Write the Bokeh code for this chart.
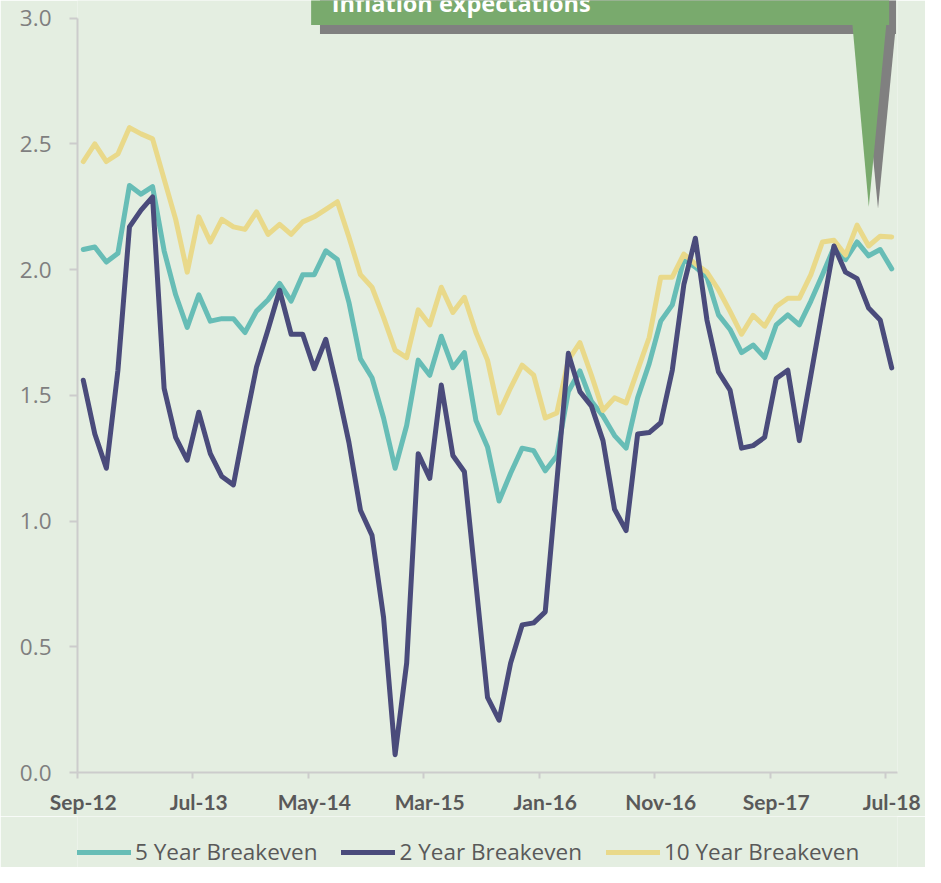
from bokeh.plotting import figure
from bokeh.layouts import column
from bokeh.models import FixedTicker, Range1d, Legend, LegendItem, NumeralTickFormatter
from bokeh.embed import file_html
from bokeh.resources import INLINE
from bokeh.core.properties import value

# ---- data (monthly, Sep-2012 .. Jul-2018) ----
tick_labels = ["Sep-12", "Jul-13", "May-14", "Mar-15", "Jan-16", "Nov-16", "Sep-17", "Jul-18"]
tick_every = 10  # months between labelled ticks

five_year = [2.08, 2.09, 2.03, 2.065, 2.335, 2.30, 2.33, 2.075, 1.90, 1.77,
             1.90, 1.795, 1.805, 1.805, 1.75, 1.835, 1.88, 1.945, 1.875, 1.98,
             1.98, 2.075, 2.04, 1.87, 1.645, 1.57, 1.41, 1.21, 1.38, 1.64,
             1.58, 1.735, 1.61, 1.67, 1.40, 1.295, 1.08, 1.19, 1.29, 1.28,
             1.20, 1.26, 1.515, 1.597, 1.476, 1.418, 1.34, 1.29, 1.49, 1.626,
             1.795, 1.86, 2.04, 2.01, 1.97, 1.82, 1.762, 1.67, 1.70, 1.65,
             1.78, 1.82, 1.78, 1.875, 1.98, 2.088, 2.04, 2.11, 2.055, 2.08,
             2.003]
two_year = [1.56, 1.346, 1.21, 1.60, 2.17, 2.237, 2.289, 1.528, 1.333, 1.242,
            1.433, 1.268, 1.177, 1.144, 1.385, 1.613, 1.762, 1.918, 1.743, 1.743,
            1.606, 1.723, 1.528, 1.313, 1.043, 0.943, 0.617, 0.071, 0.435, 1.268,
            1.17, 1.541, 1.261, 1.196, 0.75, 0.299, 0.208, 0.435, 0.587, 0.595,
            0.639, 1.155, 1.667, 1.515, 1.457, 1.32, 1.047, 0.962, 1.346, 1.352,
            1.391, 1.60, 1.94, 2.125, 1.80, 1.593, 1.521, 1.29, 1.30, 1.333,
            1.567, 1.60, 1.32, 1.58, 1.84, 2.094, 1.99, 1.964, 1.847, 1.80,
            1.609]
ten_year = [2.43, 2.50, 2.43, 2.46, 2.565, 2.54, 2.52, 2.36, 2.20, 1.99,
            2.21, 2.11, 2.20, 2.17, 2.16, 2.23, 2.14, 2.18, 2.14, 2.19,
            2.21, 2.24, 2.27, 2.13, 1.98, 1.93, 1.81, 1.68, 1.65, 1.84,
            1.78, 1.93, 1.83, 1.89, 1.75, 1.64, 1.43, 1.53, 1.62, 1.58,
            1.41, 1.43, 1.64, 1.71, 1.58, 1.44, 1.49, 1.47, 1.60, 1.73,
            1.97, 1.97, 2.062, 2.023, 1.99, 1.92, 1.834, 1.743, 1.818, 1.775,
            1.853, 1.886, 1.886, 1.98, 2.11, 2.117, 2.058, 2.177, 2.094, 2.133,
            2.13]
y_ticks = [0.0, 0.5, 1.0, 1.5, 2.0, 2.5, 3.0]
series_names = ["5 Year Breakeven", "2 Year Breakeven", "10 Year Breakeven"]

n = len(five_year)
x = [i + 0.5 for i in range(n)]  # points sit between category tick marks

BG = "#E4EEE1"
AXIS_GRAY = "#CCCCCC"
TEAL = "#67BDB6"
NAVY = "#4A4B7B"
YELLOW = "#E9D98A"
CALLOUT = "#79AA6D"
SHADOW = "#808080"

# ---- layout geometry (pixels) ----
W = 925
MAIN_H = 816
LEG_H = 867 - MAIN_H
BORDER_L, BORDER_R, BORDER_B = 77, 28, 44
FRAME_H = MAIN_H - BORDER_B
TOP_PAD = 17.7                 # space above the 3.0 tick inside the frame
y_max_tick = y_ticks[-1]
px_per_unit = (FRAME_H - TOP_PAD) / y_max_tick
y_top = y_max_tick + TOP_PAD / px_per_unit

p = figure(width=W, height=MAIN_H, output_backend="svg", toolbar_location=None,
           title=None,
           x_range=Range1d(0, n), y_range=Range1d(0, y_top),
           min_border_left=BORDER_L, min_border_right=BORDER_R, min_border_top=0,
           min_border_bottom=BORDER_B)
p.background_fill_color = BG
p.border_fill_color = BG
p.outline_line_color = None
p.xgrid.visible = False
p.ygrid.visible = False

# ---- y axis ----
p.yaxis.ticker = FixedTicker(ticks=y_ticks)
p.yaxis.formatter = NumeralTickFormatter(format="0.0")
p.yaxis.bounds = (y_ticks[0], y_ticks[-1])
p.yaxis.axis_line_color = AXIS_GRAY
p.yaxis.axis_line_width = 2
p.yaxis.major_tick_line_color = AXIS_GRAY
p.yaxis.major_tick_line_width = 2
p.yaxis.major_tick_out = 8
p.yaxis.major_tick_in = 0
p.yaxis.minor_tick_line_color = None
p.yaxis.major_label_standoff = 18
p.yaxis.major_label_text_font = "Open Sans"
p.yaxis.major_label_text_font_size = "22.5px"
p.yaxis.major_label_text_color = "#7F7F7F"

# ---- x axis ----
label_pos = [k * tick_every + 0.5 for k in range(len(tick_labels))]
bound_pos = [k * tick_every for k in range(len(tick_labels))]
p.xaxis.ticker = FixedTicker(ticks=label_pos, minor_ticks=bound_pos)
p.xaxis.major_label_overrides = {pos: lab for pos, lab in zip(label_pos, tick_labels)}
p.xaxis.axis_line_color = AXIS_GRAY
p.xaxis.axis_line_width = 2
p.xaxis.major_tick_line_color = None
p.xaxis.major_tick_out = 6
p.xaxis.major_tick_in = 0
p.xaxis.minor_tick_line_color = AXIS_GRAY
p.xaxis.minor_tick_line_width = 2
p.xaxis.minor_tick_out = 6
p.xaxis.minor_tick_in = 0
p.xaxis.major_label_standoff = 10
p.xaxis.major_label_text_font = "Lato"
p.xaxis.major_label_text_font_style = "bold"
p.xaxis.major_label_text_font_size = "21px"
p.xaxis.major_label_text_color = "#595959"

# ---- series ----
common = dict(line_width=5, line_join="round", line_cap="round")
p.line(x, five_year, line_color=TEAL, **common)
p.line(x, ten_year, line_color=YELLOW, **common)
p.line(x, two_year, line_color=NAVY, **common)

# ---- callout annotation (positions given as canvas pixels -> data space) ----
FRAME_W = W - BORDER_L - BORDER_R
SX, SY = 925 / 941, 867 / 883

def ax(px):
    return (px * SX - BORDER_L) / (FRAME_W / n)

def ay(py):
    return y_top - (py * SY) / px_per_unit

p.quad(left=[ax(325)], right=[ax(911)], bottom=[ay(34)], top=[ay(-40)],
       fill_color=SHADOW, line_color=None)
p.patch([ax(875.7), ax(910), ax(892.7)], [ay(34), ay(34), ay(212)],
        fill_color=SHADOW, line_color=None)
p.quad(left=[ax(316)], right=[ax(904)], bottom=[ay(25)], top=[ay(-40)],
       fill_color=CALLOUT, line_color=None)
p.patch([ax(866.7), ax(901), ax(883.3)], [ay(25), ay(25), ay(210)],
        fill_color=CALLOUT, line_color=None)
p.text(x=[ax(337)], y=[ay(3)], text=["Inflation expectations"],
       text_font=value("Open Sans"), text_font_style="bold",
       text_font_size="23.5px", text_color="white",
       text_baseline="alphabetic", text_align="left")

# ---- legend strip (own small figure directly below the chart) ----
leg = figure(width=W, height=LEG_H, output_backend="svg", toolbar_location=None,
             title=None, x_axis_type=None, y_axis_type=None,
             x_range=Range1d(0, 1), y_range=Range1d(0, 1),
             min_border_left=BORDER_L, min_border_right=BORDER_R,
             min_border_top=0, min_border_bottom=0)
leg.background_fill_color = BG
leg.border_fill_color = BG
leg.outline_line_color = None
# legend keys only: a single undefined point draws nothing in the strip
nan = float("nan")
k5 = leg.line(x=[nan], y=[nan], line_color=TEAL, **common)
k2 = leg.line(x=[nan], y=[nan], line_color=NAVY, **common)
k10 = leg.line(x=[nan], y=[nan], line_color=YELLOW, **common)
legend = Legend(items=[LegendItem(label=series_names[0], renderers=[k5]),
                       LegendItem(label=series_names[1], renderers=[k2]),
                       LegendItem(label=series_names[2], renderers=[k10])],
                orientation="horizontal", location=(0, 0),
                spacing=24, glyph_width=54, glyph_height=26, label_height=26,
                label_standoff=4, padding=0, margin=0,
                label_text_font="Open Sans", label_text_font_size="22.5px",
                label_text_color="#595959", label_text_baseline="middle",
                background_fill_alpha=0, border_line_alpha=0)
leg.add_layout(legend, "center")

page = column(p, leg, spacing=0)
open("out.html", "w").write(file_html(page, INLINE))
